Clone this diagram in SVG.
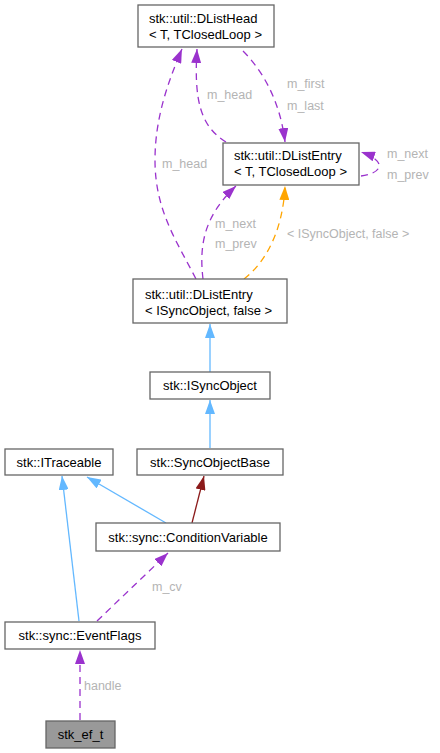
<svg xmlns="http://www.w3.org/2000/svg" width="440" height="753" viewBox="0 0 440 753">
<style>
.box{fill:#ffffff;stroke:#666666;stroke-width:1.3}
.gbox{fill:#999999;stroke:#666666;stroke-width:1.3}
.t{font-family:"Liberation Sans",Arial,sans-serif;font-size:13px;fill:#000000}
.lbl{font-family:"Liberation Sans",Arial,sans-serif;font-size:12.5px;fill:#b4b4b4}
.e{fill:none;stroke-width:1.3}
.pu{stroke:#9a32cd;stroke-dasharray:7,5}
.or{stroke:#ffa500;stroke-dasharray:7,5}
.bl{stroke:#63b8ff}
.rd{stroke:#8b1a1a}
</style>
<defs>
<marker id="apu" viewBox="0 0 14 10" refX="14" refY="5" markerWidth="14" markerHeight="10" markerUnits="userSpaceOnUse" orient="auto"><path d="M0,0 L14,5 L0,10 z" fill="#9a32cd"/></marker>
<marker id="aor" viewBox="0 0 14 10" refX="14" refY="5" markerWidth="14" markerHeight="10" markerUnits="userSpaceOnUse" orient="auto"><path d="M0,0 L14,5 L0,10 z" fill="#ffa500"/></marker>
<marker id="abl" viewBox="0 0 14 10" refX="14" refY="5" markerWidth="14" markerHeight="10" markerUnits="userSpaceOnUse" orient="auto"><path d="M0,0 L14,5 L0,10 z" fill="#63b8ff"/></marker>
<marker id="ard" viewBox="0 0 14 10" refX="14" refY="5" markerWidth="14" markerHeight="10" markerUnits="userSpaceOnUse" orient="auto"><path d="M0,0 L14,5 L0,10 z" fill="#8b1a1a"/></marker>
</defs>
<g id="connectors">
<path class="e pu" d="M80,720 L80,650" marker-end="url(#apu)"/>
<text class="lbl" x="84" y="690">handle</text>
<path class="e pu" d="M97,621 L168,553" marker-end="url(#apu)"/>
<text class="lbl" x="152" y="591">m_cv</text>
<path class="e bl" d="M79,621 L62,476" marker-end="url(#abl)"/>
<path class="e bl" d="M166,523 L87,477" marker-end="url(#abl)"/>
<path class="e rd" d="M192,523 L204,476" marker-end="url(#ard)"/>
<path class="e bl" d="M210,448 L210,400" marker-end="url(#abl)"/>
<path class="e bl" d="M210,372 L210,324" marker-end="url(#abl)"/>
<path class="e or" d="M244,279 C266,262 283,230 285,186" marker-end="url(#aor)"/>
<text class="lbl" x="287" y="238">&lt; ISyncObject, false &gt;</text>
<path class="e pu" d="M203,279 C199,245 204,216 236,186" marker-end="url(#apu)"/>
<text class="lbl" x="215" y="228">m_next</text>
<text class="lbl" x="215" y="248">m_prev</text>
<path class="e pu" d="M196,279 C176,240 155,210 155,160 C155,118 168,82 182,49" marker-end="url(#apu)"/>
<text class="lbl" x="162" y="168">m_head</text>
<path class="e pu" d="M226,142 C200,126 194,100 197,49" marker-end="url(#apu)"/>
<text class="lbl" x="207" y="99">m_head</text>
<path class="e pu" d="M243,51 C262,70 280,100 285,142" marker-end="url(#apu)"/>
<text class="lbl" x="287" y="88">m_first</text>
<text class="lbl" x="287" y="110">m_last</text>
<path class="e pu" d="M361,176 C380,174 390,162 361,152" marker-end="url(#apu)"/>
<text class="lbl" x="387" y="158">m_next</text>
<text class="lbl" x="387" y="179">m_prev</text>
</g>
<g id="node_dlisthead">
<rect class="box" x="138" y="5" width="136" height="42"/>
<text class="t" x="149" y="23">stk::util::DListHead</text>
<text class="t" x="149" y="39">&lt; T, TClosedLoop &gt;</text>
</g>
<g id="node_dlistentry_t">
<rect class="box" x="223" y="143" width="136" height="42"/>
<text class="t" x="234" y="160">stk::util::DListEntry</text>
<text class="t" x="234" y="176">&lt; T, TClosedLoop &gt;</text>
</g>
<g id="node_dlistentry_isync">
<rect class="box" x="133" y="279" width="154" height="44"/>
<text class="t" x="145" y="299">stk::util::DListEntry</text>
<text class="t" x="145" y="315">&lt; ISyncObject, false &gt;</text>
</g>
<g id="node_isyncobject">
<rect class="box" x="150" y="372" width="120" height="27"/>
<text class="t" x="210" y="390" text-anchor="middle">stk::ISyncObject</text>
</g>
<g id="node_itraceable">
<rect class="box" x="5" y="449" width="108" height="26"/>
<text class="t" x="59" y="466.5" text-anchor="middle">stk::ITraceable</text>
</g>
<g id="node_syncobjectbase">
<rect class="box" x="137" y="449" width="146" height="26"/>
<text class="t" x="210" y="466.5" text-anchor="middle">stk::SyncObjectBase</text>
</g>
<g id="node_conditionvariable">
<rect class="box" x="96" y="523" width="184" height="28"/>
<text class="t" x="188" y="541.5" text-anchor="middle">stk::sync::ConditionVariable</text>
</g>
<g id="node_eventflags">
<rect class="box" x="5" y="622" width="150" height="27"/>
<text class="t" x="80" y="640" text-anchor="middle">stk::sync::EventFlags</text>
</g>
<g id="node_stk_ef_t">
<rect class="gbox" x="46" y="721" width="69" height="27"/>
<text class="t" x="80.5" y="739" text-anchor="middle">stk_ef_t</text>
</g>
</svg>
